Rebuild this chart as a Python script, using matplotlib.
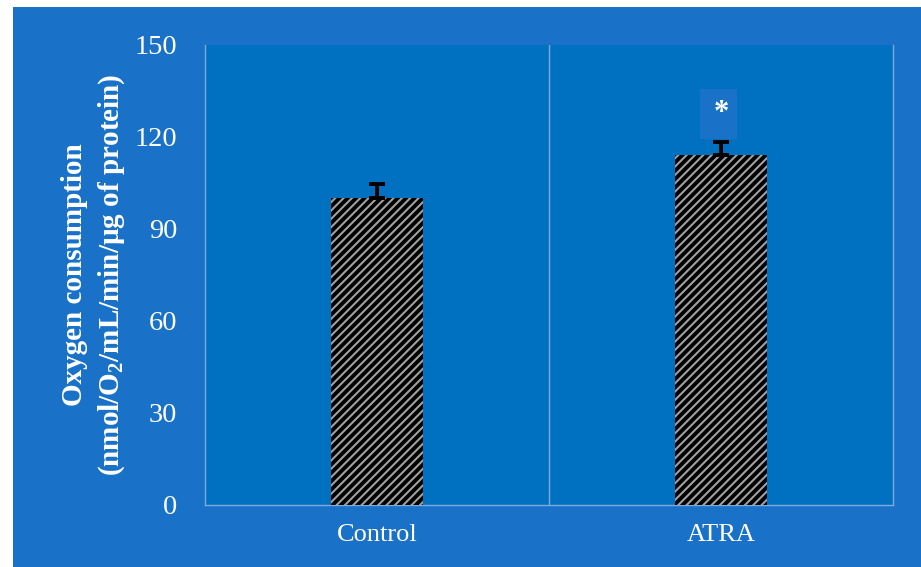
import matplotlib
matplotlib.use('Agg')
import matplotlib.pyplot as plt
from matplotlib.patches import Rectangle

# Data
groups = ['Control', 'ATRA']
means = [100, 114]
errors = [4.7, 4.5]
y_ticks = [0, 30, 60, 90, 120, 150]

plt.rcParams['font.family'] = ['Liberation Serif', 'DejaVu Serif']
plt.rcParams['mathtext.fontset'] = 'custom'
plt.rcParams['mathtext.rm'] = 'Liberation Serif:bold'
plt.rcParams['mathtext.default'] = 'rm'
plt.rcParams['hatch.linewidth'] = 1.5

outer_blue = '#1a72c8'
inner_blue = '#0070c0'
line_col = '#7ea9da'

fig = plt.figure(figsize=(9.21, 5.67), dpi=100, facecolor='white')
fig.patches.append(Rectangle((13 / 921, 0), 1, 1 - 7 / 567, transform=fig.transFigure,
                             facecolor=outer_blue, edgecolor='none', zorder=-10))

ax = fig.add_axes([205 / 921, 1 - 505 / 567, 688 / 921, 460 / 567])
ax.set_facecolor(inner_blue)

x = list(range(len(groups)))
ax.bar(x, means, width=0.27, color='black', edgecolor='#a0a0a0', linewidth=0,
       hatch='////', zorder=3)
ax.errorbar(x, means, yerr=[[0, 0], errors], fmt='none', ecolor='black',
            elinewidth=2.8, capsize=5.5, capthick=2.8, zorder=4)

# significance marker
ax.add_patch(Rectangle((0.94, 119.5), 0.107, 16, facecolor=outer_blue,
                       edgecolor='none', zorder=5))
ax.text(1, 127.5, '*', color='white', fontsize=22, fontweight='bold',
        ha='center', va='center', zorder=6)

ax.set_xlim(-0.5, 1.5)
ax.set_ylim(0, 150)
ax.set_yticks(y_ticks)
ax.set_xticks(x)
ax.set_xticklabels(groups)
ax.axvline(0.5, color=line_col, linewidth=1, zorder=1)

for s in ['left', 'right', 'bottom']:
    ax.spines[s].set_color(line_col)
    ax.spines[s].set_linewidth(1)
ax.spines['top'].set_visible(False)

ax.tick_params(axis='y', length=0, pad=20, labelsize=20.5, labelcolor='white')
ax.tick_params(axis='x', length=0, pad=14, labelsize=19, labelcolor='white')

cy = 1 - 275 / 567
fig.text(75 / 921, cy, 'Oxygen consumption', rotation=90, ha='center', va='center',
         fontsize=21, fontweight='bold', color='white')
fig.text(112 / 921, cy, r'(nmol/O$_2$/mL/min/µg of protein)', rotation=90,
         ha='center', va='center', fontsize=21, fontweight='bold', color='white')

fig.savefig('out.png', dpi=100, facecolor='white')
